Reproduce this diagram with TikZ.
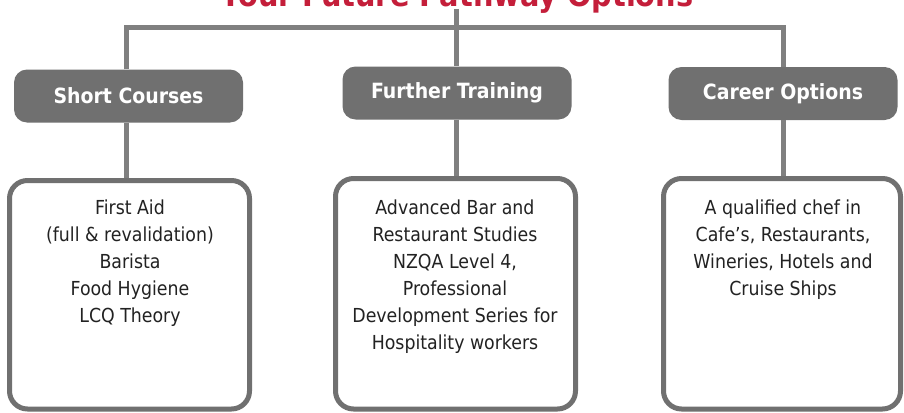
\documentclass[tikz,border=0pt]{standalone}
\usepackage{fontspec}
\setmainfont{DejaVu Sans Condensed}
\definecolor{linegray}{HTML}{808080}
\definecolor{boxgray}{HTML}{707070}
\definecolor{titlered}{HTML}{C41E3A}
\definecolor{txt}{HTML}{222222}
\begin{document}
\begin{tikzpicture}[x=1pt,y=-1pt,
  titletext/.style={text=titlered, font=\bfseries\fontsize{32}{36}\selectfont, inner sep=0pt, anchor=base},
  header/.style={rounded corners=13pt, fill=boxgray, text=white, font=\bfseries\fontsize{21}{24}\selectfont, minimum width=229pt, minimum height=53pt, inner sep=0pt},
  body/.style={draw=boxgray, line width=5pt, rounded corners=18pt, inner sep=0pt},
  bodytext/.style={text=txt, align=center, font=\fontsize{19.3}{27}\selectfont, inner sep=0pt, anchor=north},
  conn/.style={draw=linegray, line width=5pt}]
\useasboundingbox (0,0) rectangle (904,412);
\fill[white] (0,0) rectangle (904,412);
% title
\node[titletext] (title) at (457,7) {Your Future Pathway Options};
% header boxes
\node[header] (sc) at (128.5,96) {Short Courses};
\node[header] (ft) at (457,93) {Further Training};
\node[header] (co) at (783,93.5) {Career Options};
% body boxes
\node[body, minimum width=240pt, minimum height=228.5pt] (b1) at (129.5,294.75) {};
\node[body, minimum width=240pt, minimum height=230.5pt] (b2) at (455.5,293.75) {};
\node[body, minimum width=237pt, minimum height=230.5pt] (b3) at (782,293.75) {};
% body texts
\node[bodytext] (t1) at (130,200) {First Aid\\(full \& revalidation)\\Barista\\Food Hygiene\\LCQ Theory};
\node[bodytext] (t2) at (455,200) {Advanced Bar and\\Restaurant Studies\\NZQA Level 4,\\Professional\\Development Series for\\Hospitality workers};
\node[bodytext] (t3) at (783,200) {A qualified chef in\\Cafe’s, Restaurants,\\Wineries, Hotels and\\Cruise Ships};
% connectors
\coordinate (top) at (456.5,9);
\coordinate (bus) at (0,27.5);
\draw[conn] (top) -- (top |- ft.north);
\draw[conn] ([xshift=-2.5pt]sc.north) |- (bus -| co.north) -- (co.north);
\draw[conn] ([xshift=-2.5pt]sc.south) -- ([xshift=-2.5pt]sc.south |- b1.north);
\draw[conn] ([xshift=-0.5pt]ft.south) -- ([xshift=-0.5pt]ft.south |- b2.north);
\draw[conn] (co.south) -- (co.south |- b3.north);
\end{tikzpicture}
\end{document}
